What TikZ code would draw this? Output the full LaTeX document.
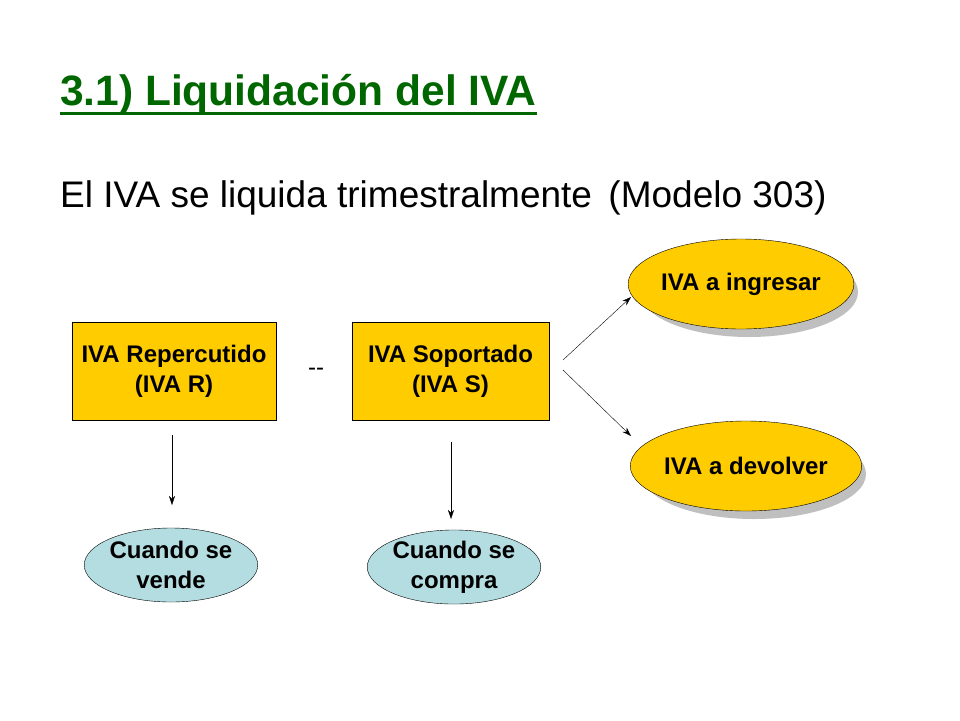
\documentclass[tikz,border=0pt]{standalone}
\usepackage{fontspec}
\setmainfont{Liberation Sans}
\usetikzlibrary{shapes.geometric,arrows.meta}
\definecolor{gold}{HTML}{FFCC00}
\definecolor{lblue}{HTML}{B4DDE2}
\definecolor{tgreen}{HTML}{006600}
\tikzset{
 box/.style={draw=black,fill=gold,minimum width=204pt,minimum height=98pt,align=center,font=\bfseries\fontsize{24}{30}\selectfont},
 oval/.style={ellipse,draw=black,fill=gold,align=center,inner sep=0pt,font=\bfseries\fontsize{24}{30}\selectfont},
 blueoval/.style={ellipse,draw=black,fill=lblue,align=center,inner sep=0pt,font=\bfseries\fontsize{24}{30}\selectfont},
 arr/.style={-{Stealth[length=9pt,width=6pt]},thin}
}
\begin{document}
\begin{tikzpicture}[x=1pt,y=-1pt]
\useasboundingbox[fill=white] (0,0) rectangle (960,720);
\node[anchor=base west,text=tgreen,font=\bfseries\fontsize{42.5}{50}\selectfont,inner sep=0pt] (title) at (60,105) {3.1) Liquidación del IVA};
\draw[tgreen,line width=3pt] (title.base west) ++(0,8) coordinate (u1) -- (u1 -| title.east);
\node[anchor=base west,font=\fontsize{37}{44}\selectfont,inner sep=0pt] (sub) at (60,207) {El IVA se liquida trimestralmente\ \,(Modelo 303)};
\node[box,minimum width=204pt] (r) at (174,371) {IVA Repercutido\\(IVA R)};
\node[box,minimum width=197pt] (s) at (450.5,371) {IVA Soportado\\(IVA S)};
\node[font=\fontsize{24}{30}\selectfont] (m) at (316,372) {-{}-};
\fill[gray!50] (749,292) ellipse (109pt and 45pt);
\node[oval,minimum width=218pt,minimum height=90pt] (i) at (741,284) {IVA a ingresar};
\fill[gray!50] (754,474) ellipse (112pt and 45pt);
\node[oval,minimum width=224pt,minimum height=90pt] (d) at (746,466) {IVA a devolver};
\node[blueoval,minimum width=150pt,minimum height=74pt] (v) at (171,565) {Cuando se\\vende};
\node[blueoval,minimum width=160pt,minimum height=68pt] (c) at (454,567) {Cuando se\\compra};
\coordinate (a1) at (172,435); \coordinate (a2) at (172,505);
\coordinate (b1) at (451,442); \coordinate (b2) at (451,519);
\coordinate (p1) at (563,360); \coordinate (p2) at (631,297);
\coordinate (q1) at (563,370); \coordinate (q2) at (631,436);
\draw[arr] (a1) -- (a2);
\draw[arr] (b1) -- (b2);
\draw[arr] (p1) -- (p2);
\draw[arr] (q1) -- (q2);
\end{tikzpicture}
\end{document}
